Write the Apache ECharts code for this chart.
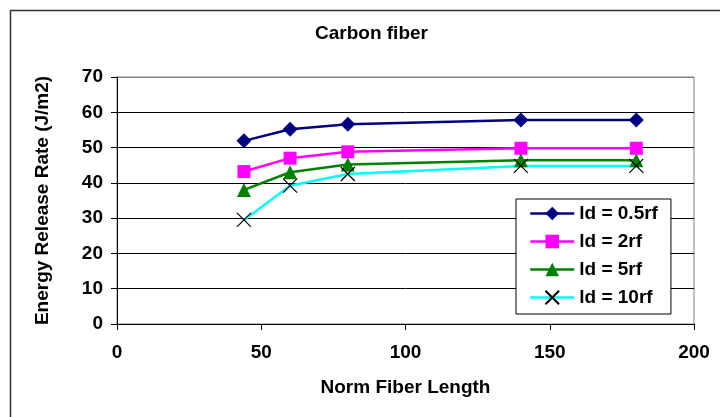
<!DOCTYPE html>
<html>
<head>
<meta charset="utf-8">
<script src="https://cdn.jsdelivr.net/npm/echarts@6/dist/echarts.min.js"></script>
<style>
html,body{margin:0;padding:0;background:#fff;}
#chart{width:720px;height:417px;}
</style>
</head>
<body>
<div id="chart"></div>
<script>
const xValues = [44, 60, 80, 140, 180];
const seriesNames = ['ld = 0.5rf', 'ld = 2rf', 'ld = 5rf', 'ld = 10rf'];
const ld05 = [51.9, 55.2, 56.6, 57.8, 57.8];
const ld2 = [43.2, 47.0, 48.8, 49.8, 49.8];
const ld5 = [38.0, 43.0, 45.2, 46.4, 46.4];
const ld10 = [29.5, 39.2, 42.5, 44.8, 44.8];
const xTicks = [0, 50, 100, 150, 200];
const yTicks = [0, 10, 20, 30, 40, 50, 60, 70];

const FONT = 'Liberation Sans, Arial, sans-serif';
const pair = arr => xValues.map((x, i) => [x, arr[i]]);

const chart = echarts.init(document.getElementById('chart'), null, {renderer: 'canvas'});
chart.setOption({
  animation: false,
  backgroundColor: '#fff',
  title: {
    text: 'Carbon fiber',
    left: 315, top: 24, padding: 0,
    textStyle: {fontFamily: FONT, fontWeight: 'bold', fontSize: 19, color: '#000'}
  },
  graphic: [{
    type: 'rect', silent: true,
    shape: {x: 10.5, y: 10.5, width: 800, height: 500},
    style: {fill: 'none', stroke: '#333', lineWidth: 1.5}
  }],
  grid: {
    left: 117, right: 26, top: 77, bottom: 93,
    show: true, borderColor: '#808080', borderWidth: 1, backgroundColor: '#fff'
  },
  legend: {
    orient: 'vertical',
    left: 516, top: 199,
    padding: [5, 13, 7, 13],
    itemGap: 9,
    itemWidth: 44, itemHeight: 17,
    backgroundColor: '#fff',
    borderColor: '#000', borderWidth: 1,
    lineStyle: {width: 2.5},
    textStyle: {fontFamily: FONT, fontWeight: 'bold', fontSize: 19, color: '#000'},
    data: seriesNames
  },
  xAxis: {
    type: 'value', min: 0, max: 200, interval: 50,
    name: 'Norm Fiber Length', nameLocation: 'middle', nameGap: 54,
    nameTextStyle: {fontFamily: FONT, fontWeight: 'bold', fontSize: 19, color: '#000'},
    axisLine: {show: true, onZero: false, lineStyle: {color: '#000', width: 1}},
    axisTick: {show: true, inside: false, length: 6, lineStyle: {color: '#000'}},
    axisLabel: {
      fontFamily: FONT, fontWeight: 'bold', fontSize: 19, color: '#000', margin: 19,
      formatter: v => xTicks.includes(v) ? String(v) : ''
    },
    splitLine: {show: false}
  },
  yAxis: {
    type: 'value', min: 0, max: 70, interval: 10,
    name: 'Energy Release Rate (J/m2)', nameLocation: 'middle', nameGap: 65,
    nameTextStyle: {fontFamily: FONT, fontWeight: 'bold', fontSize: 19, color: '#000'},
    axisLine: {show: true, lineStyle: {color: '#000', width: 1}},
    axisTick: {show: true, inside: false, length: 6, lineStyle: {color: '#000'}},
    axisLabel: {
      fontFamily: FONT, fontWeight: 'bold', fontSize: 19, color: '#000', margin: 14,
      formatter: v => yTicks.includes(v) ? String(v) : ''
    },
    splitLine: {show: true, lineStyle: {color: ['#000', '#000', '#000', '#000', '#000', '#000', '#000', '#808080'], width: 1}}
  },
  series: [
    {
      name: seriesNames[0], type: 'line', data: pair(ld05),
      symbol: 'diamond', symbolSize: 15,
      lineStyle: {color: '#000080', width: 2.5},
      itemStyle: {color: '#000080'}
    },
    {
      name: seriesNames[1], type: 'line', data: pair(ld2),
      symbol: 'rect', symbolSize: 13,
      lineStyle: {color: '#FF00FF', width: 2.5},
      itemStyle: {color: '#FF00FF'}
    },
    {
      name: seriesNames[2], type: 'line', data: pair(ld5),
      symbol: 'triangle', symbolSize: 14,
      lineStyle: {color: '#008000', width: 2.5},
      itemStyle: {color: '#008000'}
    },
    {
      name: seriesNames[3], type: 'line', data: pair(ld10),
      symbol: 'path://M0,0L10,10M0,10L10,0', symbolSize: 14,
      lineStyle: {color: '#00FFFF', width: 2.5},
      itemStyle: {color: '#000', borderColor: '#000', borderWidth: 1.2}
    }
  ]
});
</script>
</body>
</html>
